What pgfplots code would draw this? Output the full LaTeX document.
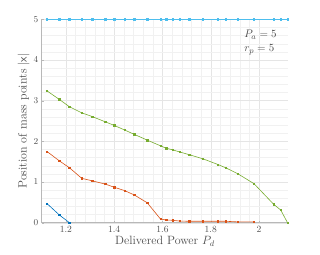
\documentclass[border=0pt]{standalone}
\usepackage{pgfplots}
\pgfplotsset{compat=1.18}
\definecolor{mblue}{rgb}{0,0.447,0.741}
\definecolor{mred}{rgb}{0.85,0.325,0.098}
\definecolor{mgreen}{rgb}{0.466,0.674,0.188}
\definecolor{mcyan}{rgb}{0.301,0.745,0.933}
\definecolor{axgray}{gray}{0.72}
\definecolor{txt}{gray}{0.3}
\begin{document}
\begin{tikzpicture}[x=1pt,y=1pt]
\path[use as bounding box] (0,0) rectangle (320,254);
\begin{axis}[
  at={(41.7pt,31.3pt)}, anchor=south west,
  scale only axis, width=246.3pt, height=203.4pt,
  xmin=1.1, xmax=2.12, ymin=0, ymax=5,
  xtick={1.2,1.4,1.6,1.8,2}, ytick={0,1,2,3,4,5},
  xticklabels={1.2,1.4,1.6,1.8,2},
  minor x tick num=4, minor y tick num=4,
  grid=both,
  major grid style={gray!20, line width=0.4pt},
  minor grid style={gray!11, line width=0.3pt},
  axis x line*=bottom, axis y line*=left,
  axis line style={axgray, line width=0.6pt},
  tick style={axgray},
  major tick length=2pt, minor tick length=0pt,
  tick label style={font=\fontsize{9.5}{10}\selectfont, text=txt},
  label style={font=\fontsize{12}{13}\selectfont, text=txt},
  xlabel={Delivered Power $P_d$},
  ylabel={Position of mass points $|\mathsf{x}|$},
  xlabel style={yshift=3pt},
  ylabel style={yshift=-3pt},
  clip=false,
  every axis plot/.append style={line width=0.6pt, mark=square*, mark size=0.7pt},
]
\addplot[mcyan, mark options={mcyan}] coordinates {
(1.122,5)(1.173,5)(1.215,5)(1.266,5)(1.309,5)(1.363,5)(1.401,5)(1.443,5)(1.484,5)(1.537,5)(1.592,5)(1.616,5)(1.643,5)(1.671,5)(1.712,5)(1.768,5)(1.830,5)(1.862,5)(1.913,5)(1.979,5)(2.061,5)(2.090,5)(2.118,5)};
\addplot[mgreen, mark options={mgreen}] coordinates {
(1.122,3.24)(1.173,3.03)(1.215,2.85)(1.266,2.70)(1.309,2.61)(1.363,2.48)(1.401,2.39)(1.443,2.28)(1.484,2.17)(1.537,2.03)(1.592,1.89)(1.616,1.83)(1.643,1.79)(1.671,1.74)(1.712,1.67)(1.768,1.57)(1.830,1.43)(1.862,1.35)(1.913,1.20)(1.979,0.96)(2.061,0.45)(2.090,0.31)(2.118,0)};
\addplot[mred, mark options={mred}] coordinates {
(1.122,1.75)(1.173,1.52)(1.215,1.35)(1.266,1.09)(1.309,1.03)(1.363,0.95)(1.401,0.87)(1.443,0.79)(1.484,0.68)(1.537,0.49)(1.592,0.09)(1.616,0.065)(1.643,0.06)(1.671,0.04)(1.712,0.035)(1.768,0.035)(1.830,0.035)(1.862,0.035)(1.913,0.02)(1.979,0.02)};
\addplot[mblue, mark options={mblue}] coordinates {
(1.122,0.47)(1.173,0.19)(1.215,0)};
\node[anchor=north west, align=left, text=txt, font=\fontsize{11}{14}\selectfont] at (axis cs:1.925,4.82) {$P_a=5$\\$r_p=5$};
\end{axis}
\end{tikzpicture}
\end{document}
